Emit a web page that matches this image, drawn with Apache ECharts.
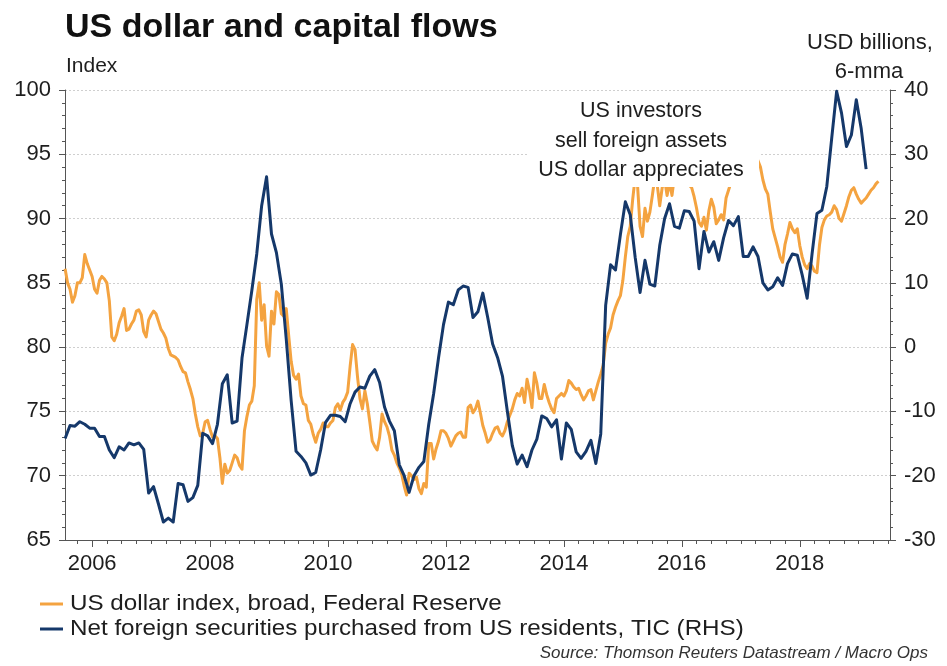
<!DOCTYPE html>
<html>
<head>
<meta charset="utf-8">
<script src="https://cdn.jsdelivr.net/npm/echarts@6/dist/echarts.min.js"></script>
<style>
  html, body { margin: 0; padding: 0; background: #ffffff; }
  #chart { width: 947px; height: 666px; }
</style>
</head>
<body>
<div id="chart"></div>
<script>
// Both series begin in mid-2005
const seriesStart = 2005 + 6.5 / 12;

// US dollar index, broad (Federal Reserve), twice-monthly readings
const dollarIndex = [
  86.1, 85.0, 84.5, 83.5, 84.0, 85.0, 85.0, 85.4, 87.2, 86.5,
  86.0, 85.5, 84.5, 84.2, 85.2, 85.5, 85.3, 85.0, 83.6, 80.8,
  80.5, 81.0, 81.9, 82.4, 83.0, 81.3, 81.4, 81.8, 82.1, 82.8,
  82.9, 82.5, 81.2, 80.8, 82.1, 82.5, 82.8, 82.6, 82.0, 81.4,
  81.1, 80.7, 79.9, 79.4, 79.3, 79.2, 79.0, 78.5, 78.1, 78.0,
  77.3, 76.7, 76.0, 74.8, 73.8, 73.1, 73.3, 74.2, 74.3, 73.6,
  73.0, 73.1, 72.9, 71.4, 69.4, 70.9, 70.2, 70.4, 71.0, 71.6,
  71.4, 70.8, 70.5, 73.5, 74.6, 75.5, 75.8, 77.0, 83.7, 85.0,
  82.1, 83.3, 80.1, 79.3, 82.8, 81.8, 84.3, 84.1, 82.6, 82.4,
  83.0, 80.9, 78.9, 77.8, 77.5, 77.9, 76.2, 75.6, 75.5, 74.3,
  74.0, 73.2, 72.6, 73.3, 73.6, 74.1, 73.8, 73.8, 74.1, 74.3,
  75.3, 75.6, 75.1, 75.7, 76.0, 76.5, 78.5, 80.2, 79.8, 77.7,
  76.0, 75.2, 76.6, 75.6, 74.2, 72.7, 72.3, 72.0, 73.0, 74.8,
  74.2, 73.8, 73.1, 72.0, 71.6, 71.0, 70.6, 70.1, 69.2, 68.5,
  70.2, 70.0, 69.7, 69.9, 69.0, 68.6, 69.4, 69.1, 72.5, 72.5,
  71.3, 72.1, 72.7, 73.5, 73.5, 73.3, 72.9, 72.3, 72.7, 73.1,
  73.3, 73.4, 73.0, 73.0, 75.3, 75.5, 74.9, 75.2, 75.8, 74.9,
  73.9, 73.3, 72.6, 72.8, 73.3, 73.7, 73.8, 73.3, 73.1, 73.5,
  74.2, 74.7, 75.2, 75.9, 76.4, 76.2, 76.8, 75.7, 77.5, 76.6,
  75.3, 78.0, 77.2, 76.0, 76.0, 77.1, 76.3, 75.7, 75.2, 74.9,
  76.0, 76.2, 76.4, 76.2, 76.6, 77.4, 77.2, 76.9, 76.7, 76.8,
  76.3, 75.9, 76.2, 76.6, 76.7, 75.9, 76.6, 77.3, 77.9, 78.6,
  80.3, 81.0, 81.5, 82.5, 83.1, 83.6, 84.0, 85.2, 87.0, 88.6,
  89.4, 91.5, 93.2, 92.5, 89.4, 88.6, 90.8, 89.8, 90.5, 91.8,
  93.2, 92.6, 91.0, 92.4, 93.0, 91.8, 92.8, 91.8, 93.3, 93.8,
  94.2, 93.7, 93.4, 93.0, 92.6, 92.4, 91.7, 90.8, 89.7, 89.4,
  90.1, 89.1, 90.6, 91.5, 90.9, 89.6, 89.9, 90.3, 89.9, 91.6,
  92.2, 92.8, 93.4, 94.0, 94.6, 95.1, 95.5, 95.8, 96.0, 95.8,
  95.4, 95.0, 94.5, 94.0, 93.0, 92.3, 91.9, 90.5, 89.2, 88.5,
  87.8, 87.0, 86.6, 88.0, 88.8, 89.7, 89.2, 88.9, 89.2, 87.9,
  87.0, 86.4, 86.1, 86.5, 86.3, 85.9, 85.8, 87.9, 89.3, 89.9,
  90.2, 90.3, 90.5, 91.0, 90.7, 90.0, 89.8, 90.4, 91.0, 91.7,
  92.2, 92.4, 91.9, 91.5, 91.2, 91.4, 91.6, 91.9, 92.2, 92.4,
  92.7, 92.9
];

// Net foreign securities purchased from US residents, TIC, USD bn 6-mma (monthly)
const netForeignPurchases = [
  -14.2, -12.2, -12.3, -11.6, -12.0, -12.6, -12.6, -13.9, -13.9, -16.0,
  -17.2, -15.5, -16.0, -14.9, -15.2, -14.9, -15.9, -22.7, -21.7, -24.4,
  -27.2, -26.6, -27.2, -21.2, -21.4, -24.0, -23.4, -21.5, -13.4, -13.8,
  -15.0, -12.0, -5.7, -4.3, -11.8, -11.5, -1.7, 3.5, 8.8, 14.5,
  22.0, 26.5, 17.6, 14.7, 9.8, 1.3, -8.3, -16.2, -17.0, -18.0,
  -19.9, -19.5, -16.0, -11.7, -10.6, -10.6, -10.8, -11.6, -8.8, -7.0,
  -6.2, -6.4, -4.5, -3.5, -5.5, -9.3, -11.5, -13.0, -18.3, -20.0,
  -22.6, -20.0, -18.7, -17.8, -12.0, -7.2, -1.6, 3.5, 7.0, 6.6,
  8.9, 9.5, 9.3, 4.6, 5.5, 8.4, 4.6, 0.5, -1.6, -4.5,
  -10.0, -15.3, -18.2, -16.8, -18.6, -16.0, -14.3, -10.7, -11.1, -12.4,
  -11.3, -17.4, -11.8, -12.8, -16.3, -17.3, -16.2, -14.5, -18.1, -13.5,
  6.5, 12.8, 12.0, 17.5, 22.6, 20.6, 14.0, 8.5, 13.5, 9.8,
  9.5, 15.8, 20.0, 22.3, 18.8, 18.5, 21.2, 21.1, 19.6, 12.2,
  18.0, 14.8, 16.4, 13.5, 17.0, 19.7, 18.9, 20.3, 14.1, 14.1,
  15.6, 14.1, 10.0, 8.9, 9.4, 10.8, 9.6, 13.0, 14.5, 14.3,
  11.2, 7.6, 14.5, 20.8, 21.3, 25.0, 32.5, 39.8, 36.4, 31.2,
  33.0, 38.5, 34.0, 27.7
];

const yearLabels = [2006, 2008, 2010, 2012, 2014, 2016, 2018];
const seriesNames = [
  'US dollar index, broad, Federal Reserve',
  'Net foreign securities purchased from US residents, TIC (RHS)'
];
const annotationLines = ['US investors', 'sell foreign assets', 'US dollar appreciates'];

const xMin = 2005.54, xMax = 2019.53;
const FONT = '"Liberation Sans", Arial, Helvetica, sans-serif';
const ORANGE = '#F4A340';
const NAVY = '#15386A';
const TEXT = '#1e1e1e';

// pair each reading with its decimal-year date
const toPairs = (vals, perYear) => vals.map((v, i) => [seriesStart + i / perYear, v]);

// quarterly minor ticks between the labelled years
const quarterTicks = [];
for (let q = Math.ceil(xMin * 4); q <= Math.floor(xMax * 4); q++) {
  const v = q / 4;
  if (!(Number.isInteger(v) && v % 2 === 0)) quarterTicks.push(v);
}

// legend rows drawn as line swatch + label
const legendColors = [ORANGE, NAVY];
const legendGraphics = [];
seriesNames.forEach((name, i) => {
  const cy = 604 + i * 25;
  legendGraphics.push({ type: 'rect', z: 100,
    shape: { x: 40, y: cy - 1.5, width: 23, height: 3 }, style: { fill: legendColors[i] } });
  legendGraphics.push({ type: 'text', z: 100, x: 70, y: cy, scaleX: 1.1,
    style: { text: name, font: '22px ' + FONT, fill: TEXT, textVerticalAlign: 'middle' } });
});

const chart = echarts.init(document.getElementById('chart'), null, { renderer: 'canvas' });

chart.setOption({
  animation: false,
  backgroundColor: '#ffffff',
  textStyle: { fontFamily: FONT },
  grid: { left: 65, right: 57, top: 90, bottom: 126, containLabel: false },
  xAxis: [
    {
      type: 'value', min: xMin, max: xMax, position: 'bottom',
      axisLine: { show: true, onZero: false, lineStyle: { color: '#555', width: 1 } },
      axisTick: { show: true, length: 7, inside: false, customValues: yearLabels,
                  lineStyle: { color: '#555' } },
      axisLabel: { show: true, customValues: yearLabels, margin: 13, fontSize: 22,
                   color: TEXT, fontFamily: FONT, formatter: (v) => String(v) },
      splitLine: { show: false }
    },
    {
      type: 'value', min: xMin, max: xMax, position: 'bottom',
      axisLine: { show: false, onZero: false },
      axisTick: { show: true, length: 4, customValues: quarterTicks,
                  lineStyle: { color: '#555' } },
      axisLabel: { show: false },
      splitLine: { show: false }
    }
  ],
  yAxis: [
    {
      type: 'value', min: 65, max: 100, interval: 5, position: 'left',
      axisLine: { show: true, onZero: false, lineStyle: { color: '#555', width: 1 } },
      axisTick: { show: true, length: 6, lineStyle: { color: '#555' } },
      minorTick: { show: true, splitNumber: 5, length: 3, lineStyle: { color: '#555' } },
      axisLabel: { fontSize: 22, color: TEXT, margin: 14, fontFamily: FONT },
      splitLine: { show: true, lineStyle: { color: '#cfcfcf', type: [2, 2], width: 1 } }
    },
    {
      type: 'value', min: -30, max: 40, interval: 10, position: 'right',
      axisLine: { show: true, onZero: false, lineStyle: { color: '#555', width: 1 } },
      axisTick: { show: true, length: 6, lineStyle: { color: '#555' } },
      minorTick: { show: true, splitNumber: 5, length: 3, lineStyle: { color: '#555' } },
      axisLabel: { fontSize: 22, color: TEXT, margin: 14, fontFamily: FONT },
      splitLine: { show: false }
    }
  ],
  series: [
    {
      name: seriesNames[0], type: 'line', xAxisIndex: 0, yAxisIndex: 0,
      data: toPairs(dollarIndex, 24), showSymbol: false, symbol: 'none',
      lineStyle: { color: ORANGE, width: 3, join: 'round' }, itemStyle: { color: ORANGE },
      z: 2
    },
    {
      name: seriesNames[1], type: 'line', xAxisIndex: 0, yAxisIndex: 1,
      data: toPairs(netForeignPurchases, 12), showSymbol: false, symbol: 'none',
      lineStyle: { color: NAVY, width: 3, join: 'round' }, itemStyle: { color: NAVY },
      z: 3
    }
  ],
  graphic: [
    { type: 'text', left: 65, top: 11, z: 100,
      style: { text: 'US dollar and capital flows', font: 'bold 34px ' + FONT, fill: '#111' } },
    { type: 'text', left: 66, top: 56, z: 100,
      style: { text: 'Index', font: '21px ' + FONT, fill: TEXT } },
    { type: 'text', x: 870, y: 43, z: 100,
      style: { text: 'USD billions,', font: '22px ' + FONT, fill: TEXT,
               textAlign: 'center', textVerticalAlign: 'middle' } },
    { type: 'text', x: 869, y: 72, z: 100,
      style: { text: '6-mma', font: '22px ' + FONT, fill: TEXT,
               textAlign: 'center', textVerticalAlign: 'middle' } },
    // annotation panel sits on top of the lines
    { type: 'rect', z: 100, shape: { x: 527, y: 93, width: 232, height: 94 },
      style: { fill: '#ffffff' } },
    { type: 'text', x: 641, y: 111, z: 101,
      style: { text: annotationLines[0], font: '21.5px ' + FONT, fill: TEXT,
               textAlign: 'center', textVerticalAlign: 'middle' } },
    { type: 'text', x: 641, y: 141, z: 101,
      style: { text: annotationLines[1], font: '21.5px ' + FONT, fill: TEXT,
               textAlign: 'center', textVerticalAlign: 'middle' } },
    { type: 'text', x: 641, y: 170, z: 101,
      style: { text: annotationLines[2], font: '21.5px ' + FONT, fill: TEXT,
               textAlign: 'center', textVerticalAlign: 'middle' } },
    { type: 'text', x: 928, y: 653, z: 100,
      style: { text: 'Source: Thomson Reuters Datastream / Macro Ops',
               font: 'italic 17px ' + FONT, fill: '#333',
               textAlign: 'right', textVerticalAlign: 'middle' } }
  ].concat(legendGraphics)
});
</script>
</body>
</html>
